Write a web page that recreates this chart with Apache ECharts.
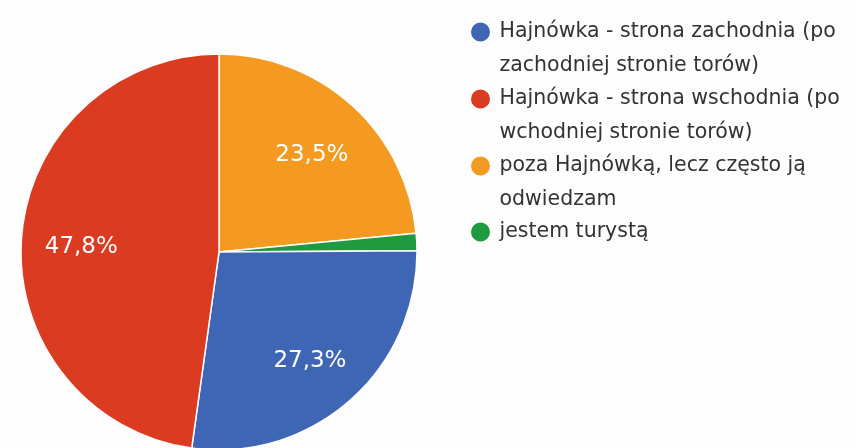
<!DOCTYPE html>
<html>
<head>
<meta charset="utf-8">
<script src="https://cdn.jsdelivr.net/npm/echarts@6/dist/echarts.min.js"></script>
<style>
html,body{margin:0;padding:0;background:#fdfdfd;}
#main{width:855px;height:448px;}
</style>
</head>
<body>
<div id="main"></div>
<script>
// legend order
var names = [
	'Hajnówka - strona zachodnia (po zachodniej stronie torów)',
	'Hajnówka - strona wschodnia (po wchodniej stronie torów)',
	'poza Hajnówką, lecz często ją odwiedzam',
	'jestem turystą'
];
// legend text as it is wrapped in the picture
var legendLines = [
	['Hajnówka - strona zachodnia (po', 'zachodniej stronie torów)'],
	['Hajnówka - strona wschodnia (po', 'wchodniej stronie torów)'],
	['poza Hajnówką, lecz często ją', 'odwiedzam'],
	['jestem turystą']
];
var colors = ['#3f65b5', '#db3b20', '#f59a21', '#1f9a3e'];
var percents = [27.3, 47.8, 23.5, 1.4];
// slices drawn clockwise from 12 o'clock
var drawOrder = [2, 3, 0, 1];

var font = 'DejaVu Sans';
var myChart = echarts.init(document.getElementById('main'));

var pieData = drawOrder.map(function (i) {
	return { name: names[i], value: percents[i], itemStyle: { color: colors[i] } };
});
var labelData = drawOrder.map(function (i) {
	return { value: percents[i], label: { show: percents[i] > 5 } };
});

var lineH = 33.4;
var legendCenters = [32, 99, 166, 232];
var legends = names.map(function (n, i) {
	var two = legendLines[i].length > 1;
	return {
		data: [n],
		orient: 'vertical',
		left: 469,
		top: legendCenters[i] - (two ? lineH * 1.5 : lineH / 2),
		padding: 0,
		icon: 'circle',
		itemWidth: 28,
		itemHeight: 21,
		itemGap: 0,
		selectedMode: false,
		// empty first line keeps the dot level with the first text line
		formatter: function () { return (two ? ' \n' : '') + legendLines[i].join('\n'); },
		textStyle: {
			fontFamily: font,
			fontSize: 20.5,
			color: '#333',
			lineHeight: lineH
		}
	};
});

option = {
	backgroundColor: '#fdfdfd',
	animation: false,
	legend: legends,
	series: [{
		name: 'pie',
		type: 'pie',
		center: [219, 252],
		radius: [0, 198],
		startAngle: 90,
		clockwise: true,
		silent: true,
		label: { show: false },
		labelLine: { show: false },
		itemStyle: { borderColor: '#fdfdfd', borderWidth: 1.5 },
		data: pieData
	}, {
		name: 'labels',
		type: 'pie',
		center: [219, 252],
		radius: [72, 198],
		startAngle: 90,
		clockwise: true,
		silent: true,
		itemStyle: { color: 'rgba(0,0,0,0)' },
		label: {
			position: 'inside',
			color: '#fff',
			fontFamily: font,
			fontSize: 23,
			offset: [0, 5],
			formatter: function (p) { return p.value.toFixed(1).replace('.', ',') + '%'; }
		},
		labelLine: { show: false },
		data: labelData
	}]
};
myChart.setOption(option);
</script>
</body>
</html>
